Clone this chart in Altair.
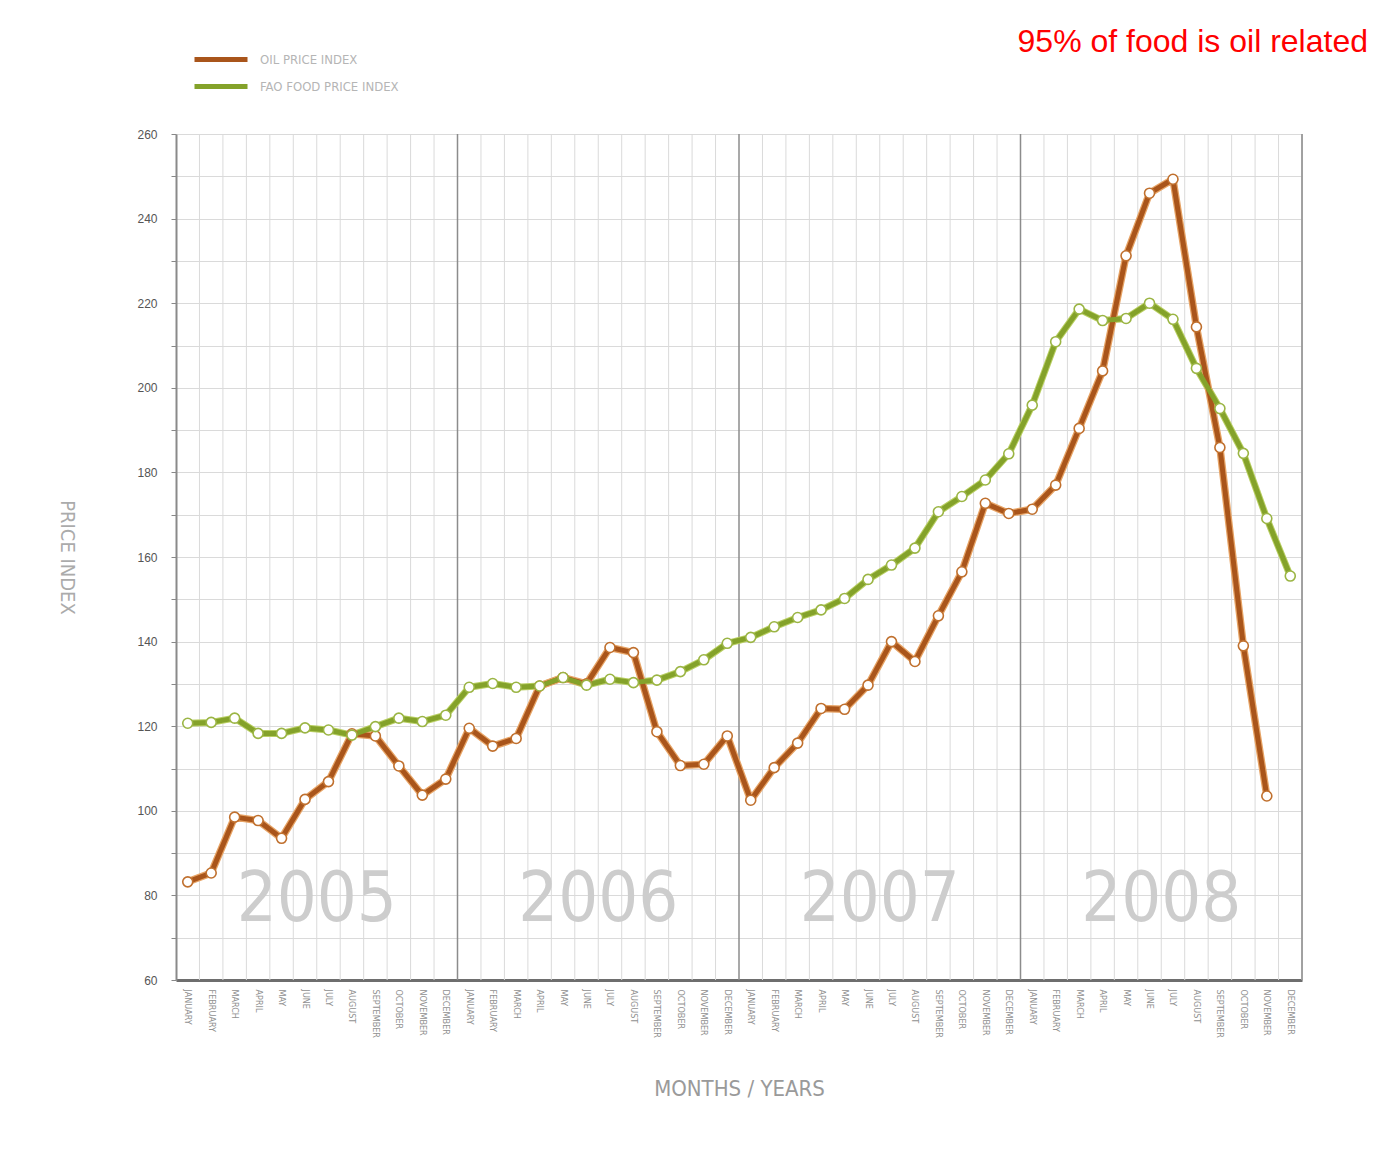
import json
import altair as alt
import numpy as np
import pandas as pd

months = ["JANUARY", "FEBRUARY", "MARCH", "APRIL", "MAY", "JUNE", "JULY",
          "AUGUST", "SEPTEMBER", "OCTOBER", "NOVEMBER", "DECEMBER"]
years = ["2005", "2006", "2007", "2008"]

oil = [83.2, 85.3, 98.5, 97.7, 93.5, 102.7, 106.9, 118.2, 117.7, 110.6, 103.7, 107.5,
       119.5, 115.3, 117.1, 129.5, 131.5, 130.0, 138.6, 137.4, 118.7, 110.7, 111.0, 117.7,
       102.5, 110.2, 116.0, 124.2, 124.0, 129.7, 140.0, 135.3, 146.1, 156.5, 172.7, 170.3,
       171.3, 177.0, 190.4, 204.0, 231.2, 246.0, 249.3, 214.4, 185.9, 139.0, 103.5]

food = [120.7, 120.9, 121.9, 118.3, 118.3, 119.6, 119.1, 117.9, 119.9, 121.9, 121.1, 122.6,
        129.2, 130.1, 129.2, 129.5, 131.5, 129.7, 131.1, 130.3, 130.9, 132.9, 135.7, 139.6,
        141.0, 143.5, 145.7, 147.5, 150.2, 154.7, 158.1, 162.1, 170.7, 174.3, 178.2, 184.4,
        195.9, 210.9, 218.6, 215.9, 216.4, 220.0, 216.2, 204.6, 195.1, 184.5, 169.1, 155.5]

OIL = "OIL PRICE INDEX"
FOOD = "FAO FOOD PRICE INDEX"
OIL_C = "#a9551b"
FOOD_C = "#84a22a"
NARROW = "'DejaVu Sans Condensed', 'Liberation Sans Narrow', 'Roboto Condensed', sans-serif"

rows = [{"t": i, "series": OIL, "value": v} for i, v in enumerate(oil)]
rows += [{"t": i, "series": FOOD, "value": v} for i, v in enumerate(food)]
df = pd.DataFrame(rows)

n = len(food)
xscale = alt.Scale(domain=[-0.5, n - 0.5], nice=False, zero=False)
yscale = alt.Scale(domain=[60, 260], nice=False, zero=False)

month_js = json.dumps(months)
x_axis = alt.Axis(
    values=list(range(n)),
    labelExpr=f"{month_js}[datum.value % 12]",
    labelAngle=90, labelAlign="left", labelBaseline="middle",
    labelFontSize=9, labelColor="#909090", labelFont=NARROW,
    labelPadding=9, labelOverlap=False, labelFlush=False, ticks=False, grid=False,
    domainColor="#6e6e6e", domainWidth=3,
    title="MONTHS / YEARS", titleFont=NARROW, titleFontSize=22,
    titleFontWeight="normal", titleColor="#9a9a9a", titleY=108,
    titleBaseline="middle",
)
y_axis = alt.Axis(
    values=list(range(60, 261, 10)),
    labelExpr="datum.value % 20 == 0 ? datum.label : ''",
    labelFontSize=12, labelColor="#555555", labelFont="Liberation Sans",
    labelPadding=14, tickSize=5, tickColor="#888888",
    grid=True, gridColor="#dadada", gridWidth=1,
    domainColor="#8a8a8a", domainWidth=2,
    title="PRICE INDEX", titleAngle=90, titleFont=NARROW,
    titleFontSize=20, titleFontWeight="normal", titleColor="#ababab",
    titleX=-110, titleY=423, titleAlign="center", titleBaseline="middle",
)


def X(field):
    return alt.X(field, scale=xscale, axis=x_axis)


def Y(field):
    return alt.Y(field, scale=yscale, axis=y_axis)


base = alt.Chart(df)

# grid: month boundaries
bounds = pd.DataFrame({"b": np.arange(-0.5, n, 1.0)})
bounds["kind"] = ["edge" if (i % 12 == 0) else "minor" for i in range(len(bounds))]
minor_grid = alt.Chart(bounds[bounds["kind"] == "minor"]).mark_rule(
    color="#dadada", strokeWidth=1
).encode(x=X("b:Q"))
year_grid = alt.Chart(bounds[(bounds["kind"] == "edge") & (bounds["b"] > 0)]).mark_rule(
    color="#8c8c8c", strokeWidth=1.5
).encode(x=X("b:Q"))
right_edge = alt.Chart(bounds.tail(1)).mark_rule(color="#a0a0a0", strokeWidth=1.5).encode(
    x=X("b:Q")
)

year_df = pd.DataFrame({"year": years, "t": [5.5 + 12 * k for k in range(len(years))],
                        "value": [79.0] * len(years)})
year_text = alt.Chart(year_df).mark_text(
    font=NARROW, fontSize=70, color="#cdcdcd",
    align="center", baseline="middle"
).encode(x=X("t:Q"), y=Y("value:Q"), text="year:N")

color_scale = alt.Scale(domain=[OIL, FOOD], range=[OIL_C, FOOD_C])

oil_glow = alt.Chart(df[df["series"] == OIL]).mark_line(
    color="#e7a466", strokeWidth=7.5, strokeJoin="round"
).encode(x=X("t:Q"), y=Y("value:Q"))

food_glow = alt.Chart(df[df["series"] == FOOD]).mark_line(
    color="#b9cf63", strokeWidth=7, strokeJoin="round"
).encode(x=X("t:Q"), y=Y("value:Q"))

lines = base.mark_line(strokeWidth=5, strokeJoin="round").encode(
    x=X("t:Q"),
    y=Y("value:Q"),
    color=alt.Color("series:N", scale=color_scale, sort=[OIL, FOOD],
                    legend=alt.Legend(
                        orient="none", legendX=16, legendY=-82, title=None,
                        symbolType="stroke", symbolSize=2809, symbolStrokeWidth=5,
                        clipHeight=15,
                        labelFont=NARROW, labelFontSize=13,
                        labelColor="#b5b5b5", labelOffset=10, rowPadding=12,
                        padding=0,
                    )),
    detail="series:N",
)

points = base.mark_point(filled=True, fill="white", size=100, strokeWidth=1.6, opacity=1).encode(
    x=X("t:Q"),
    y=Y("value:Q"),
    stroke=alt.Stroke("series:N", scale=alt.Scale(domain=[OIL, FOOD], range=["#c0702e", "#9bb544"]),
                      legend=None),
)

chart = alt.layer(
    minor_grid, year_text, year_grid, right_edge,
    food_glow, oil_glow, lines, points
).properties(
    width=1126, height=846,
    autosize=alt.AutoSizeParams(type="none"),
    padding={"left": 168, "top": 126, "right": 67, "bottom": 171},
    title=alt.TitleParams(
        "95% of food is oil related", anchor="end", frame="group", color="#ff0000",
        fontSize=32, font="Liberation Sans", fontWeight="normal", dx=66, dy=34, offset=2,
        baseline="alphabetic",
    ),
).configure_view(stroke=None).configure_axisX(labelOverlap=False).configure(background="white")

chart.save("out.html", embed_options={"renderer": "svg", "actions": False})
